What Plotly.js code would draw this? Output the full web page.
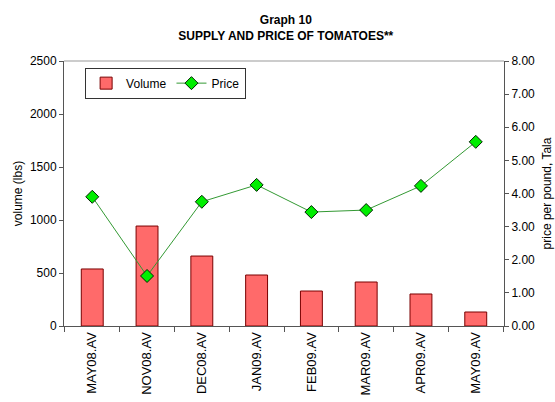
<!DOCTYPE html>
<html>
<head>
<meta charset="utf-8">
<script src="https://cdn.plot.ly/plotly-3.0.1.min.js"></script>
<style>html,body{margin:0;padding:0;background:#fff;}#chart{width:555px;height:402px;}</style>
</head>
<body>
<div id="chart"></div>
<script>
const categories = ["MAY08.AV","NOV08.AV","DEC08.AV","JAN09.AV","FEB09.AV","MAR09.AV","APR09.AV","MAY09.AV"];
const volume = [538, 943, 660, 481, 330, 415, 302, 132];
const price = [3.90, 1.51, 3.75, 4.26, 3.44, 3.50, 4.23, 5.56];
const volumeTicks = [0, 500, 1000, 1500, 2000, 2500];
const priceTicks = [0, 1, 2, 3, 4, 5, 6, 7, 8];
const priceTickText = priceTicks.map(v => v.toFixed(2));

const font = {family: "Liberation Sans, Arial, sans-serif", color: "#000"};

const traces = [
  {
    type: "bar", name: "Volume", x: categories, y: volume, yaxis: "y",
    marker: {color: "#ff6a6a", line: {color: "#7a0000", width: 1}},
    width: 0.4
  },
  {
    type: "scatter", mode: "lines+markers", name: "Price", x: categories, y: price, yaxis: "y2",
    line: {color: "#339933", width: 1},
    marker: {symbol: "diamond", size: 10, color: "#00ee00", line: {color: "#002200", width: 1}}
  }
];

const layout = {
  width: 555, height: 402,
  margin: {l: 64, r: 51, t: 61, b: 76},
  paper_bgcolor: "#fff", plot_bgcolor: "#fff",
  font: Object.assign({size: 12}, font),
  title: {
    text: "<b>Graph 10<br>SUPPLY AND PRICE OF TOMATOES**</b>",
    font: Object.assign({size: 12}, font),
    x: 0.515, xanchor: "center", y: 0.94, yanchor: "middle"
  },
  showlegend: true,
  legend: {
    orientation: "h", x: 0.048, y: 0.975, xanchor: "left", yanchor: "top",
    bordercolor: "#333", borderwidth: 1, bgcolor: "#fff",
    font: Object.assign({size: 12}, font)
  },
  bargap: 0.6,
  xaxis: {
    type: "category",
    tickangle: -90,
    tickfont: Object.assign({size: 13}, font),
    showline: true, linecolor: "#555", linewidth: 1,
    ticks: "outside", ticklen: 5, tickcolor: "#555",
    tickson: "boundaries",
    showgrid: false, zeroline: false
  },
  yaxis: {
    range: [0, 2500], tickvals: volumeTicks,
    tickfont: Object.assign({size: 12}, font),
    showline: true, linecolor: "#555", linewidth: 1,
    ticks: "outside", ticklen: 4, tickcolor: "#555",
    showgrid: false, zeroline: false,
    title: {text: "volume (lbs)", font: Object.assign({size: 12}, font), standoff: 4}
  },
  yaxis2: {
    overlaying: "y", side: "right",
    range: [0, 8], tickvals: priceTicks, ticktext: priceTickText,
    tickfont: Object.assign({size: 12}, font),
    showline: true, linecolor: "#555", linewidth: 1,
    ticks: "outside", ticklen: 4, tickcolor: "#555",
    showgrid: false, zeroline: false,
    title: {text: "price per pound, Tala", font: Object.assign({size: 12}, font), standoff: 8}
  },
  shapes: [
    {type: "line", xref: "paper", yref: "paper", x0: 0, x1: 1, y0: 1, y1: 1, line: {color: "#999", width: 1}}
  ]
};

Plotly.newPlot("chart", traces, layout, {displayModeBar: false, staticPlot: true});
</script>
</body>
</html>
